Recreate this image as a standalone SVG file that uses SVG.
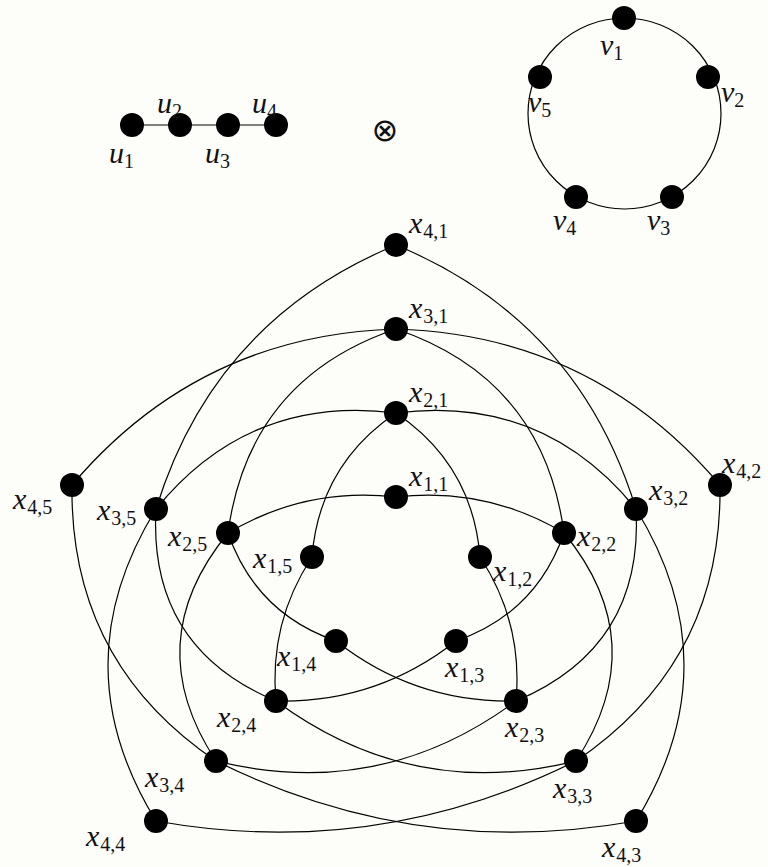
<svg xmlns="http://www.w3.org/2000/svg" width="768" height="867" viewBox="0 0 768 867">
<style>
.e{fill:none;stroke:#000;stroke-width:1.2}
.n{fill:#000}
.l{font-family:'Liberation Serif','DejaVu Serif','Times New Roman',serif;font-style:italic;font-size:30px;fill:#111}
.s{font-style:normal;font-size:20px}
.op{font-family:'DejaVu Sans',sans-serif;font-size:32px;fill:#111}
</style>
<rect width="768" height="867" fill="#fdfdfa"/>
<g id="connectors">
<line class="e" x1="132" y1="125" x2="276" y2="125"/>
<ellipse class="e" cx="624.5" cy="113.5" rx="96.5" ry="95.5"/>
<path class="e" d="M396,497 Q486.1,486.6 564,533"/>
<path class="e" d="M396,497 Q305.9,486.6 228,533"/>
<path class="e" d="M396,413 Q472.6,464.8 480,557"/>
<path class="e" d="M396,413 Q319.4,464.8 312,557"/>
<path class="e" d="M480,557 Q523.2,622.7 516,701"/>
<path class="e" d="M312,557 Q268.8,622.7 276,701"/>
<path class="e" d="M456,641 Q536.2,613.2 564,533"/>
<path class="e" d="M336,641 Q255.8,613.2 228,533"/>
<path class="e" d="M276,701 Q376.8,703.3 456,641"/>
<path class="e" d="M516,701 Q415.2,703.3 336,641"/>
<path class="e" d="M396,413 Q542.7,394.2 636,509"/>
<path class="e" d="M396,413 Q249.3,394.2 156,509"/>
<path class="e" d="M396,329 Q543.3,378.9 564,533"/>
<path class="e" d="M396,329 Q248.7,378.9 228,533"/>
<path class="e" d="M564,533 Q653.9,642.6 576,761"/>
<path class="e" d="M228,533 Q138.1,642.6 216,761"/>
<path class="e" d="M516,701 Q643.8,647.4 636,509"/>
<path class="e" d="M276,701 Q148.2,647.4 156,509"/>
<path class="e" d="M216,761 Q380.1,801.6 516,701"/>
<path class="e" d="M576,761 Q411.9,801.6 276,701"/>
<path class="e" d="M396,329 Q592.7,334.9 720,485"/>
<path class="e" d="M396,329 Q199.3,334.9 72,485"/>
<path class="e" d="M396,245 Q578.2,320.5 636,509"/>
<path class="e" d="M396,245 Q213.8,320.5 156,509"/>
<path class="e" d="M636,509 Q732,665 636,821"/>
<path class="e" d="M156,509 Q60,665 156,821"/>
<path class="e" d="M576,761 Q722.5,661.9 720,485"/>
<path class="e" d="M216,761 Q69.5,661.9 72,485"/>
<path class="e" d="M156,821 Q375.9,860.3 576,761"/>
<path class="e" d="M636,821 Q416.1,860.3 216,761"/>
</g>
<g id="u1"><circle class="n" cx="132" cy="125" r="12"/><text class="l" x="109" y="163">u<tspan class="s" dy="5">1</tspan></text></g>
<g id="u2"><circle class="n" cx="180" cy="125" r="12"/><text class="l" x="157" y="113">u<tspan class="s" dy="5">2</tspan></text></g>
<g id="u3"><circle class="n" cx="228" cy="125" r="12"/><text class="l" x="205" y="163">u<tspan class="s" dy="5">3</tspan></text></g>
<g id="u4"><circle class="n" cx="276" cy="125" r="12"/><text class="l" x="252" y="113">u<tspan class="s" dy="5">4</tspan></text></g>
<g id="otimes"><text class="op" x="385" y="141" text-anchor="middle">⊗</text></g>
<g id="v1"><circle class="n" cx="624" cy="18" r="12"/><text class="l" x="600" y="55">v<tspan class="s" dy="5">1</tspan></text></g>
<g id="v2"><circle class="n" cx="708" cy="77" r="12"/><text class="l" x="721" y="102">v<tspan class="s" dy="5">2</tspan></text></g>
<g id="v3"><circle class="n" cx="672" cy="197" r="12"/><text class="l" x="647" y="230">v<tspan class="s" dy="5">3</tspan></text></g>
<g id="v4"><circle class="n" cx="576" cy="197" r="12"/><text class="l" x="553" y="230">v<tspan class="s" dy="5">4</tspan></text></g>
<g id="v5"><circle class="n" cx="540" cy="77" r="12"/><text class="l" x="528" y="112">v<tspan class="s" dy="5">5</tspan></text></g>
<g id="x41"><circle class="n" cx="396" cy="245" r="12"/><text class="l" x="409" y="233">x<tspan class="s" dx="1" dy="5">4,1</tspan></text></g>
<g id="x31"><circle class="n" cx="396" cy="329" r="12"/><text class="l" x="409" y="318">x<tspan class="s" dx="1" dy="5">3,1</tspan></text></g>
<g id="x21"><circle class="n" cx="396" cy="413" r="12"/><text class="l" x="409" y="402">x<tspan class="s" dx="1" dy="5">2,1</tspan></text></g>
<g id="x11"><circle class="n" cx="396" cy="497" r="12"/><text class="l" x="409" y="486">x<tspan class="s" dx="1" dy="5">1,1</tspan></text></g>
<g id="x12"><circle class="n" cx="480" cy="557" r="12"/><text class="l" x="493" y="581">x<tspan class="s" dx="1" dy="5">1,2</tspan></text></g>
<g id="x13"><circle class="n" cx="456" cy="641" r="12"/><text class="l" x="445" y="677">x<tspan class="s" dx="1" dy="5">1,3</tspan></text></g>
<g id="x14"><circle class="n" cx="336" cy="641" r="12"/><text class="l" x="277" y="666">x<tspan class="s" dx="1" dy="5">1,4</tspan></text></g>
<g id="x15"><circle class="n" cx="312" cy="557" r="12"/><text class="l" x="253" y="568">x<tspan class="s" dx="1" dy="5">1,5</tspan></text></g>
<g id="x22"><circle class="n" cx="564" cy="533" r="12"/><text class="l" x="577" y="546">x<tspan class="s" dx="1" dy="5">2,2</tspan></text></g>
<g id="x23"><circle class="n" cx="516" cy="701" r="12"/><text class="l" x="505" y="737">x<tspan class="s" dx="1" dy="5">2,3</tspan></text></g>
<g id="x24"><circle class="n" cx="276" cy="701" r="12"/><text class="l" x="217" y="727">x<tspan class="s" dx="1" dy="5">2,4</tspan></text></g>
<g id="x25"><circle class="n" cx="228" cy="533" r="12"/><text class="l" x="168" y="546">x<tspan class="s" dx="1" dy="5">2,5</tspan></text></g>
<g id="x32"><circle class="n" cx="636" cy="509" r="12"/><text class="l" x="649" y="500">x<tspan class="s" dx="1" dy="5">3,2</tspan></text></g>
<g id="x33"><circle class="n" cx="576" cy="761" r="12"/><text class="l" x="553" y="798">x<tspan class="s" dx="1" dy="5">3,3</tspan></text></g>
<g id="x34"><circle class="n" cx="216" cy="761" r="12"/><text class="l" x="145" y="787">x<tspan class="s" dx="1" dy="5">3,4</tspan></text></g>
<g id="x35"><circle class="n" cx="156" cy="509" r="12"/><text class="l" x="97" y="520">x<tspan class="s" dx="1" dy="5">3,5</tspan></text></g>
<g id="x42"><circle class="n" cx="720" cy="485" r="12"/><text class="l" x="722" y="473">x<tspan class="s" dx="1" dy="5">4,2</tspan></text></g>
<g id="x43"><circle class="n" cx="636" cy="821" r="12"/><text class="l" x="602" y="857">x<tspan class="s" dx="1" dy="5">4,3</tspan></text></g>
<g id="x44"><circle class="n" cx="156" cy="821" r="12"/><text class="l" x="86" y="846">x<tspan class="s" dx="1" dy="5">4,4</tspan></text></g>
<g id="x45"><circle class="n" cx="72" cy="485" r="12"/><text class="l" x="13" y="509">x<tspan class="s" dx="1" dy="5">4,5</tspan></text></g>
</svg>
